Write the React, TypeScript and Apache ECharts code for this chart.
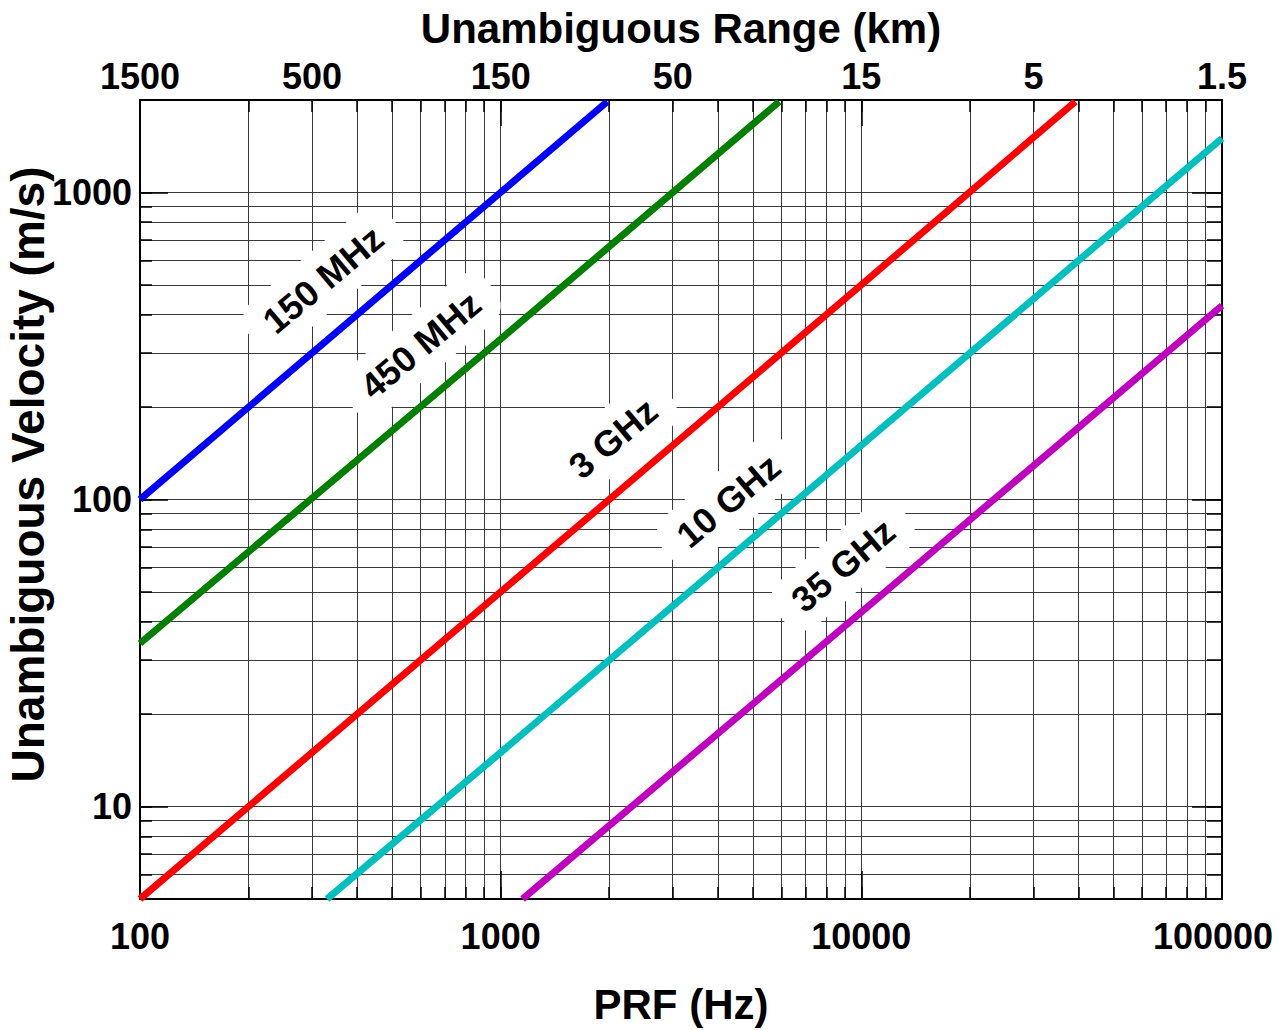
import React, { useEffect, useRef } from "react";
import * as echarts from "echarts";

// ---- data ----
const seriesNames = ["150 MHz", "450 MHz", "3 GHz", "10 GHz", "35 GHz"];
const seriesColors = ["#0000ff", "#007f00", "#ff0000", "#00bfbf", "#bf00bf"];

// PRF (Hz) and velocity (m/s) pairs for each line
const line150MHz: [number, number][] = [[100, 100], [1000, 1000], [1975, 1975]];
const line450MHz: [number, number][] = [[100, 34], [1000, 333], [5920, 1975]];
const line3GHz: [number, number][] = [[100, 5], [1000, 50], [10000, 500], [39200, 1975]];
const line10GHz: [number, number][] = [[330, 5], [1000, 15], [10000, 150], [100000, 1500]];
const line35GHz: [number, number][] = [[1150, 5], [10000, 43], [100000, 428]];
const lines = [line150MHz, line450MHz, line3GHz, line10GHz, line35GHz];

// label anchors (PRF, velocity)
const labelPrf = [322, 600, 2050, 4280, 8900];
const labelVel = [520, 318, 158, 99, 61];

// axes
const prfMajorTicks = [100, 1000, 10000, 100000];
const prfGridTicks = [
  100, 200, 300, 400, 500, 600, 700, 800, 900,
  1000, 2000, 3000, 4000, 5000, 6000, 7000, 8000, 9000,
  10000, 20000, 30000, 40000, 50000, 60000, 70000, 80000, 90000,
  100000,
];
const rangeTickPrf = [100, 300, 1000, 3000, 10000, 30000, 100000];
const rangeTickLabels = ["1500", "500", "150", "50", "15", "5", "1.5"];
const velMajorTicks = [10, 100, 1000];
const velGridTicks = [
  5, 6, 7, 8, 9,
  10, 20, 30, 40, 50, 60, 70, 80, 90,
  100, 200, 300, 400, 500, 600, 700, 800, 900,
  1000, 2000,
];

const FONT = "'Liberation Sans', Arial, Helvetica, sans-serif";

export default function App() {
  const ref = useRef<HTMLDivElement>(null);

  useEffect(() => {
    document.body.style.margin = "0";
    if (!ref.current) return;
    const chart = echarts.init(ref.current, null, { renderer: "svg" });

    const tickStyle = { color: "#000", width: 1.5 };
    const labelStyle = {
      fontFamily: FONT,
      fontWeight: "bold" as const,
      fontSize: 36,
      color: "#000",
    };
    const nameStyle = {
      fontFamily: FONT,
      fontWeight: "bold" as const,
      fontSize: 42,
      color: "#000",
    };

    const xRange = { type: "log", logBase: 10, min: 100, max: 100000 };
    const yRange = { type: "log", logBase: 10, min: 5, max: 2000 };

    const tickOnlyX = (position: string, length: number) => ({
      ...xRange,
      position,
      axisLine: { show: false },
      axisTick: { show: true, inside: true, length, lineStyle: tickStyle, customValues: prfMajorTicks },
      axisLabel: { show: false },
      splitLine: { show: false },
    });
    const tickOnlyY = (position: string, length: number) => ({
      ...yRange,
      position,
      axisLine: { show: false },
      axisTick: { show: true, inside: true, length, lineStyle: tickStyle, customValues: velMajorTicks },
      axisLabel: { show: false },
      splitLine: { show: false },
    });

    const lastPrf = prfMajorTicks[prfMajorTicks.length - 1];

    const option: any = {
      animation: false,
      backgroundColor: "#fff",
      grid: { left: 140, right: 57, top: 100, bottom: 131, containLabel: false, outerBoundsMode: "none" },
      xAxis: [
        {
          ...xRange,
          position: "bottom",
          name: "PRF (Hz)",
          nameLocation: "middle",
          nameGap: 84,
          nameMoveOverlap: false,
          nameTextStyle: nameStyle,
          axisLine: { show: true, lineStyle: { color: "#000", width: 2 } },
          axisTick: { show: true, inside: true, length: 12, lineStyle: tickStyle, customValues: prfGridTicks },
          axisLabel: {
            show: true,
            margin: 19,
            ...labelStyle,
            customValues: prfMajorTicks,
            formatter: (v: number) => {
              const s = String(Math.round(v));
              return Math.abs(v - lastPrf) / lastPrf < 1e-6 ? `{last|${s}}` : s;
            },
            rich: {
              last: { ...labelStyle, padding: [0, 18, 0, 0] },
            },
          },
          splitLine: { show: true, lineStyle: { color: "#3a3a3a", width: 1 } },
        },
        {
          ...xRange,
          position: "top",
          name: "Unambiguous Range (km)",
          nameLocation: "middle",
          nameGap: 51,
          nameMoveOverlap: false,
          nameTextStyle: nameStyle,
          axisLine: { show: true, lineStyle: { color: "#000", width: 2 } },
          axisTick: { show: true, inside: true, length: 12, lineStyle: tickStyle, customValues: prfGridTicks },
          axisLabel: {
            show: true,
            margin: 6,
            ...labelStyle,
            customValues: rangeTickPrf,
            formatter: (v: number) => {
              let best = 0;
              let bestD = Infinity;
              rangeTickPrf.forEach((p, i) => {
                const d = Math.abs(Math.log10(p) - Math.log10(v));
                if (d < bestD) {
                  bestD = d;
                  best = i;
                }
              });
              return rangeTickLabels[best];
            },
          },
          splitLine: { show: false },
        },
        tickOnlyX("bottom", 28),
        tickOnlyX("top", 26),
      ],
      yAxis: [
        {
          ...yRange,
          position: "left",
          name: "Unambiguous Velocity (m/s)",
          nameLocation: "middle",
          nameGap: 89,
          nameMoveOverlap: false,
          nameTextStyle: { ...nameStyle, fontSize: 46, padding: [0, 0, 0, 50] },
          axisLine: { show: true, lineStyle: { color: "#000", width: 2 } },
          axisTick: { show: true, inside: true, length: 12, lineStyle: tickStyle, customValues: velGridTicks },
          axisLabel: {
            show: true,
            margin: 8,
            ...labelStyle,
            customValues: velMajorTicks,
            formatter: (v: number) => String(Math.round(v)),
          },
          splitLine: { show: true, lineStyle: { color: "#3a3a3a", width: 1 } },
        },
        {
          ...yRange,
          position: "right",
          axisLine: { show: true, lineStyle: { color: "#000", width: 2 } },
          axisTick: { show: true, inside: true, length: 15, lineStyle: tickStyle, customValues: velGridTicks },
          axisLabel: { show: false },
          splitLine: { show: false },
        },
        tickOnlyY("left", 28),
        tickOnlyY("right", 30),
      ],
      series: lines.map((d, i) => ({
        type: "line",
        name: seriesNames[i],
        xAxisIndex: 0,
        yAxisIndex: 0,
        data: d,
        showSymbol: false,
        symbol: "none",
        clip: true,
        lineStyle: { color: seriesColors[i], width: 7 },
        itemStyle: { color: seriesColors[i] },
        z: 3,
        markPoint: {
          silent: true,
          symbol: "rect",
          symbolSize: 1,
          itemStyle: { color: "rgba(0,0,0,0)" },
          label: {
            show: true,
            position: "inside",
            formatter: seriesNames[i],
            rotate: 40,
            fontFamily: FONT,
            fontWeight: "bold",
            fontSize: 36,
            color: "#000",
            backgroundColor: "#fff",
            padding: [11, 20],
            borderRadius: 22,
          },
          data: [{ coord: [labelPrf[i], labelVel[i]] }],
          z: 4,
        },
      })),
    };

    chart.setOption(option);
    return () => chart.dispose();
  }, []);

  return (
    <div
      ref={ref}
      style={{ position: "fixed", left: 0, top: 0, width: 1279, height: 1030 }}
    />
  );
}
